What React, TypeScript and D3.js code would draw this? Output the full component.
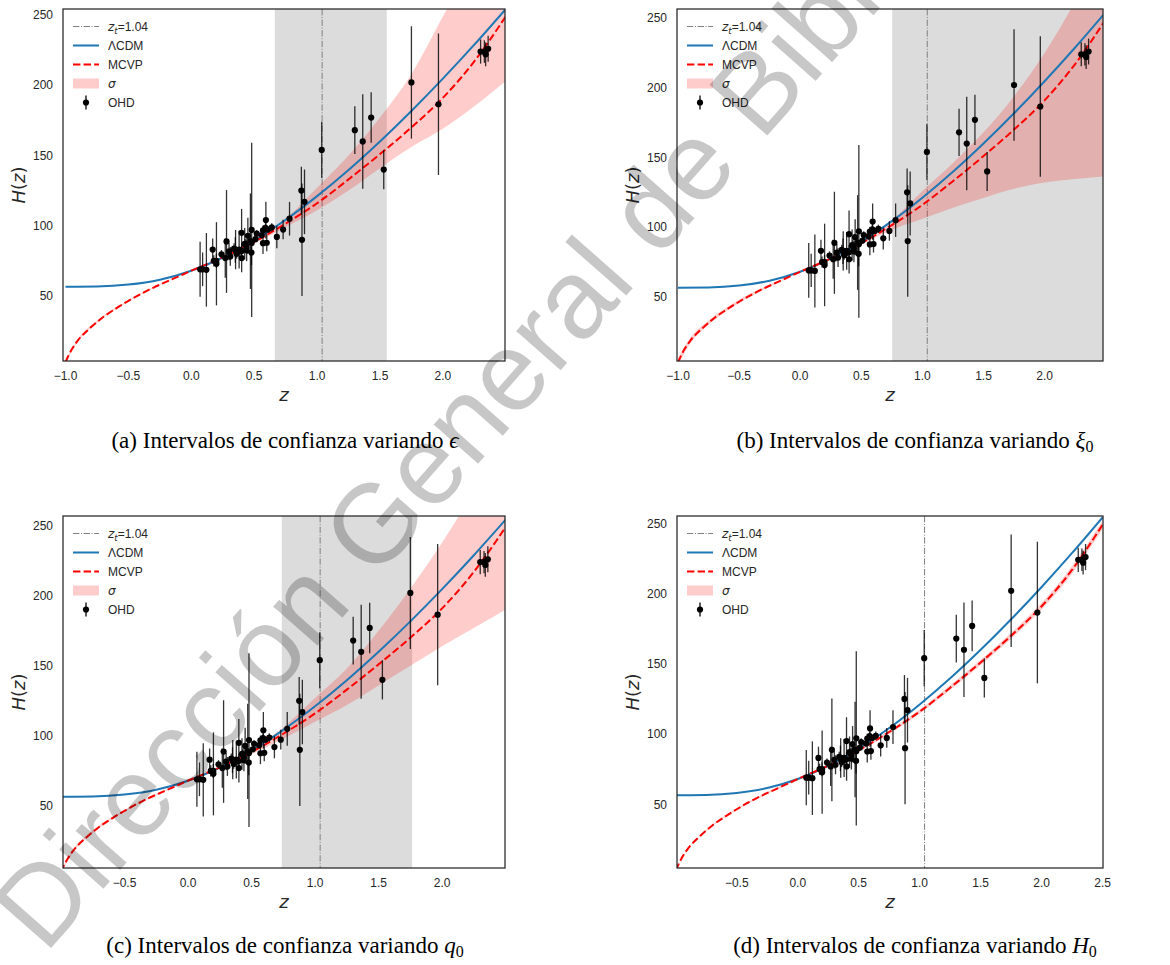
import React from 'react';
import * as d3 from 'd3';

// OHD compilation (z, H(z), sigma)
const ohdZ = [
  0.07, 0.09, 0.12, 0.17, 0.179, 0.199, 0.2, 0.27, 0.28, 0.352, 0.3802, 0.4, 0.4004, 0.4247,
  0.4497, 0.47, 0.4783, 0.48, 0.593, 0.68, 0.781, 0.875, 0.88, 0.9, 1.037, 1.3, 1.363, 1.43,
  1.53, 1.75, 1.965, 0.24, 0.3, 0.31, 0.34, 0.35, 0.36, 0.38, 0.4, 0.43, 0.44, 0.44, 0.48,
  0.51, 0.52, 0.56, 0.57, 0.57, 0.59, 0.6, 0.61, 0.64, 0.73, 2.3, 2.33, 2.34, 2.36,
];
const ohdH = [
  69, 69, 68.6, 83, 75, 75, 72.9, 77, 88.8, 83, 83, 95, 77, 87.1,
  92.8, 89, 80.9, 97, 104, 92, 105, 125, 90, 117, 154, 168, 160, 177,
  140, 202, 186.5, 79.69, 81.7, 78.17, 83.8, 82.7, 79.93, 81.5, 82.04, 86.45, 82.6, 84.81, 87.79,
  90.4, 94.35, 93.34, 87.6, 96.8, 98.48, 87.9, 97.3, 98.82, 97.3, 224, 224, 222, 226,
];
const ohdErr = [
  19.6, 12, 26.2, 8, 4, 5, 29.6, 14, 36.6, 14, 13.5, 17, 10.2, 11.2,
  12.9, 34, 9, 62, 13, 8, 12, 17, 40, 23, 20, 17, 33.6, 18,
  14, 40, 50.4, 2.99, 6.22, 6.74, 3.66, 9.1, 3.39, 1.9, 2.03, 3.97, 7.8, 1.83, 2.03,
  1.9, 2.64, 2.3, 7.8, 3.4, 3.18, 6.1, 2.1, 2.98, 7, 8.6, 8, 8.5, 9.3,
];

// LCDM curve
const lcdmZ = [-1.0, -0.75, -0.5, -0.25, 0, 0.25, 0.5, 0.75, 1.0, 1.25, 1.5, 1.75, 2.0, 2.25, 2.5];
const lcdmH = [56.5, 56.7, 58.1, 61.6, 68.0, 77.4, 89.6, 104.3, 121.1, 139.7, 160.0, 181.7, 204.7, 228.9, 254.3];

// MCVP curve
const mcvpZ = [-1.0, -0.95, -0.9, -0.8, -0.7, -0.6, -0.5, -0.4, -0.3, -0.2, -0.1, 0, 0.25, 0.5, 0.75, 1.0, 1.25, 1.5, 1.75, 2.0, 2.25, 2.5];
const mcvpH = [3, 12, 18.5, 27.5, 35, 41, 46.5, 51.5, 56, 60, 64, 68, 77.5, 88.5, 101.5, 116, 133, 151, 170, 191, 217, 249];

// confidence bands
const bandZ = [-1.0, -0.9, -0.75, -0.5, -0.25, 0, 0.25, 0.5, 0.75, 1.0, 1.25, 1.5, 1.75, 2.0, 2.25, 2.5];
const epsUpper = [4, 19.5, 32.5, 47, 58.5, 68, 78, 90, 105, 127, 150, 177, 208, 249, 290, 335];
const epsLower = [2.5, 17.8, 30.8, 46, 57.6, 68, 77, 87.5, 99, 111, 125, 141, 156, 169, 185, 203];
const xiUpper = [6, 20.5, 33, 48, 58.7, 68, 78, 90, 105, 126, 146, 168, 194, 225, 262, 305];
const xiLower = [1, 16.5, 30, 45.5, 57.3, 68, 77, 87.5, 98, 106, 114, 121, 127.5, 132, 134.5, 136.5];
const qUpper = [4, 19.5, 32.5, 47, 58.5, 68, 78, 90.5, 106, 127, 148, 175, 205, 238, 275, 318];
const qLower = [2, 17.5, 30.5, 46, 57.5, 68, 77, 87, 98, 110, 122, 136, 150, 164, 177, 190];
const h0Upper = [3.5, 18.8, 32, 47.1, 58.7, 68.8, 78.5, 89.7, 102.8, 117.5, 134.7, 152.9, 172.1, 193.4, 219.7, 252];
const h0Lower = [2.5, 18.2, 31, 45.9, 57.3, 67.2, 76.5, 87.3, 100.2, 114.5, 131.3, 149.1, 167.9, 188.6, 214.3, 246];

const zt = 1.04;
const yTicks = [50, 100, 150, 200, 250];
const xTicksFull = [-1.0, -0.5, 0.0, 0.5, 1.0, 1.5, 2.0];
const xTicksC = [-0.5, 0.0, 0.5, 1.0, 1.5, 2.0];
const xTicksD = [-0.5, 0.0, 0.5, 1.0, 1.5, 2.0, 2.5];

const SANS = 'Liberation Sans, Arial, sans-serif';
const MATH = 'DejaVu Sans, sans-serif';
const SERIF = 'Liberation Serif, Times New Roman, serif';
const INK = '#262626';
const BLUE = '#1f77b4';

const panels = [
  {
    id: 'a', left: 63, top: 9, right: 505, bottom: 361,
    xDomain: [-1.02, 2.494], yDomain: [3.7, 254.3], span: [0.664, 1.554],
    upper: epsUpper, lower: epsLower, xTicks: xTicksFull,
    cap: '(a) Intervalos de confianza variando ', sym: '\u03f5', sub: '', capX: 285, capY: 448,
  },
  {
    id: 'b', left: 677, top: 9, right: 1103, bottom: 361,
    xDomain: [-1.008, 2.478], yDomain: [4, 256.5], span: [0.753, 3],
    upper: xiUpper, lower: xiLower, xTicks: xTicksFull,
    cap: '(b) Intervalos de confianza variando ', sym: '\u03be', sub: '0', capX: 915, capY: 448,
  },
  {
    id: 'c', left: 63, top: 516, right: 505, bottom: 868,
    xDomain: [-0.984, 2.495], yDomain: [5.7, 256.9], span: [0.738, 1.764],
    upper: qUpper, lower: qLower, xTicks: xTicksC,
    cap: '(c) Intervalos de confianza variando ', sym: 'q', sub: '0', capX: 285, capY: 953,
  },
  {
    id: 'd', left: 677, top: 516, right: 1103, bottom: 868,
    xDomain: [-0.99, 2.503], yDomain: [4.7, 255.2], span: null,
    upper: h0Upper, lower: h0Lower, xTicks: xTicksD,
    cap: '(d) Intervalos de confianza variando ', sym: 'H', sub: '0', capX: 915, capY: 953,
  },
];

const fmt = (v: number) => (v < 0 ? '\u2212' : '') + Math.abs(v).toFixed(1);

const Panel = ({ p }: { p: any }) => {
  const x = d3.scaleLinear().domain(p.xDomain).range([p.left, p.right]);
  const y = d3.scaleLinear().domain(p.yDomain).range([p.bottom, p.top]);

  const line = d3.line<[number, number]>()
    .x(d => x(d[0]))
    .y(d => y(d[1]))
    .curve(d3.curveMonotoneX);

  const area = d3.area<number>()
    .x(z => x(z))
    .y0((_, i) => y(p.lower[i]))
    .y1((_, i) => y(p.upper[i]))
    .curve(d3.curveMonotoneX);

  const lcdm = lcdmZ.map((z, i) => [z, lcdmH[i]] as [number, number]);
  const mcvp = mcvpZ.map((z, i) => [z, mcvpH[i]] as [number, number]);
  const clip = `clip-${p.id}`;
  const cx = (p.left + p.right) / 2;
  const cy = (p.top + p.bottom) / 2;

  // legend geometry
  const lx = p.left + 10;
  const lw = 26;
  const tx = p.left + 45;
  const rows = [17.5, 36.5, 55.5, 74.5, 93.5].map(o => p.top + o);

  return (
    <g>
      <defs>
        <clipPath id={clip}>
          <rect x={p.left} y={p.top} width={p.right - p.left} height={p.bottom - p.top} />
        </clipPath>
      </defs>
      <g clipPath={`url(#${clip})`}>
        {p.span && (
          <rect
            x={x(p.span[0])}
            y={p.top}
            width={x(Math.min(p.span[1], p.xDomain[1])) - x(p.span[0])}
            height={p.bottom - p.top}
            fill="#dcdcdc"
          />
        )}
        <line x1={x(zt)} x2={x(zt)} y1={p.top} y2={p.bottom}
          stroke="#808080" strokeWidth={1} strokeDasharray="6.4,1.6,1,1.6" />
        <path d={area(bandZ) || ''} fill="red" fillOpacity={0.2} />
        <path d={line(lcdm) || ''} fill="none" stroke={BLUE} strokeWidth={2} />
        <path d={line(mcvp) || ''} fill="none" stroke="red" strokeWidth={2} strokeDasharray="7.4,3.2" />
        {ohdZ.map((z, i) => (
          <line key={'e' + i} x1={x(z)} x2={x(z)} y1={y(ohdH[i] - ohdErr[i])} y2={y(ohdH[i] + ohdErr[i])}
            stroke="#000" strokeOpacity={0.8} strokeWidth={1.3} />
        ))}
        {ohdZ.map((z, i) => (
          <circle key={'p' + i} cx={x(z)} cy={y(ohdH[i])} r={3.1} fill="#000" />
        ))}
      </g>
      <rect x={p.left} y={p.top} width={p.right - p.left} height={p.bottom - p.top}
        fill="none" stroke={INK} strokeWidth={1.25} />

      {yTicks.map(t => (
        <text key={'y' + t} x={p.left - 10} y={y(t)} dy="0.35em" textAnchor="end"
          fontFamily={SANS} fontSize={12} fill={INK}>{t}</text>
      ))}
      {p.xTicks.map((t: number) => (
        <text key={'x' + t} x={x(t)} y={p.bottom + 19} textAnchor="middle"
          fontFamily={SANS} fontSize={12} fill={INK}>{fmt(t)}</text>
      ))}
      <text x={cx} y={p.bottom + 40} textAnchor="middle" fontFamily={MATH} fontStyle="italic"
        fontSize={18} fill={INK}>z</text>
      <text transform={`translate(${p.left - 38},${cy}) rotate(-90)`} textAnchor="middle"
        fontFamily={MATH} fontSize={18} fill={INK}>
        <tspan fontStyle="italic">H</tspan>(<tspan fontStyle="italic">z</tspan>)
      </text>

      {/* legend */}
      <line x1={lx} x2={lx + lw} y1={rows[0]} y2={rows[0]} stroke="#808080" strokeWidth={1}
        strokeDasharray="6.4,1.6,1,1.6" />
      <text x={tx} y={rows[0]} dy="0.35em" fontFamily={SANS} fontSize={12} fill={INK}>
        <tspan fontFamily={MATH} fontStyle="italic">z</tspan>
        <tspan fontFamily={MATH} fontStyle="italic" fontSize={8.5} dy={3}>t</tspan>
        <tspan dy={-3}>=1.04</tspan>
      </text>
      <line x1={lx} x2={lx + lw} y1={rows[1]} y2={rows[1]} stroke={BLUE} strokeWidth={2} />
      <text x={tx} y={rows[1]} dy="0.35em" fontFamily={SANS} fontSize={12} fill={INK}>ΛCDM</text>
      <line x1={lx} x2={lx + lw} y1={rows[2]} y2={rows[2]} stroke="red" strokeWidth={2}
        strokeDasharray="7.4,3.2" />
      <text x={tx} y={rows[2]} dy="0.35em" fontFamily={SANS} fontSize={12} fill={INK}>MCVP</text>
      <rect x={lx} y={rows[3] - 5} width={lw} height={10} fill="red" fillOpacity={0.2} />
      <text x={tx} y={rows[3]} dy="0.35em" fontFamily={MATH} fontStyle="italic" fontSize={12} fill={INK}>σ</text>
      <line x1={lx + lw / 2} x2={lx + lw / 2} y1={rows[4] - 7} y2={rows[4] + 7} stroke="#000" strokeWidth={1.3} />
      <circle cx={lx + lw / 2} cy={rows[4]} r={3.1} fill="#000" />
      <text x={tx} y={rows[4]} dy="0.35em" fontFamily={SANS} fontSize={12} fill={INK}>OHD</text>

      {/* caption */}
      <text x={p.capX} y={p.capY} textAnchor="middle" fontFamily={SERIF} fontSize={23} fill="#000">
        {p.cap}
        <tspan fontStyle="italic">{p.sym}</tspan>
        {p.sub && <tspan fontSize={16} dy={4}>{p.sub}</tspan>}
      </text>
    </g>
  );
};

export default function App() {
  return (
    <svg width={1170} height={965} viewBox="0 0 1170 965"
      style={{ position: 'absolute', left: 0, top: 0, background: '#fff' }}>
      <rect x={0} y={0} width={1170} height={965} fill="#fff" />
      {panels.map(p => <Panel key={p.id} p={p} />)}
      <text transform="translate(45,955) rotate(-48.6)" fontFamily={SANS} fontSize={112}
        fill="#000" fillOpacity={0.22}>Dirección General de Bibliotecas</text>
    </svg>
  );
}
